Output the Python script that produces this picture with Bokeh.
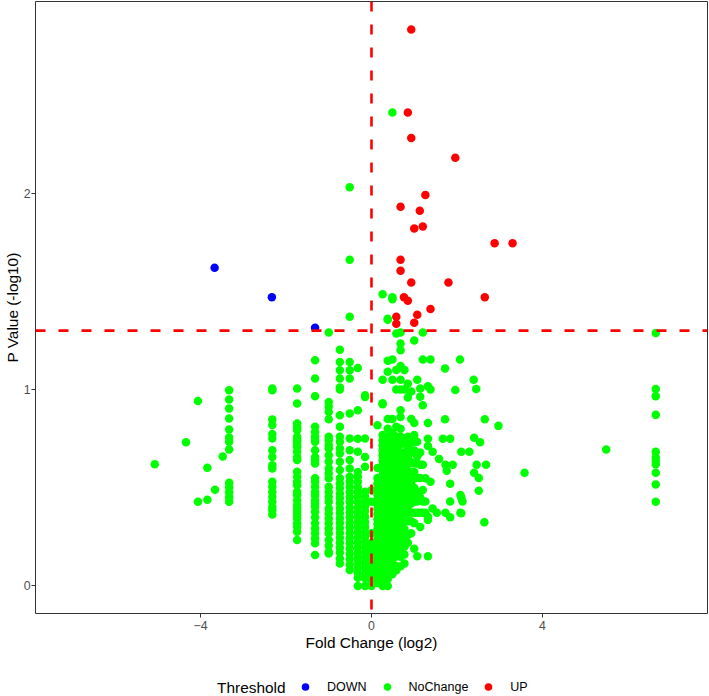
from bokeh.plotting import figure
from bokeh.layouts import column
from bokeh.models import Span, Legend, LegendItem, Label, FixedTicker, ColumnDataSource, Range1d
from bokeh.embed import file_html
from bokeh.resources import INLINE

# ---------------- data ----------------
x_ticks = [-4, 0, 4]
x_tick_labels = ["\u22124", "0", "4"]
y_ticks = [0, 1, 2]
y_tick_labels = ["0", "1", "2"]
p_threshold = 1.3
fc_threshold = 0
groups = ["DOWN", "NoChange", "UP"]

down_fc = [-3.67, -2.33, -1.32]
down_p = [1.62, 1.47, 1.315]

up_fc = [0.93, 0.85, 0.93, 1.96, 1.26, 0.68, 1.13, 1.20, 1.00, 2.88, 3.30, 0.68,
         0.68, 0.93, 1.80, 0.76, 0.85, 2.65, 1.38, 1.07, 0.58, 0.58, 1.00]
up_p = [2.833, 2.41, 2.28, 2.18, 1.99, 1.93, 1.91, 1.83, 1.82, 1.745, 1.745, 1.66,
        1.605, 1.545, 1.545, 1.47, 1.452, 1.47, 1.41, 1.38, 1.37, 1.335, 1.34]

# NoChange points, grouped by fold-change column
nc_col_fc = [-3.33, -2.32, -1.74, -1.32, -1.0, -0.74, -0.51, -0.32, -0.15, 0.0,
             0.14, 0.26, 0.38, 0.49, 0.58, 0.68, 0.77, 0.85, 0.93, 1.0,
             1.07, 1.14, 1.2, 1.26, 1.32, 1.38, 6.65]
p_m333 = [0.996, 0.949, 0.903, 0.852, 0.797, 0.756, 0.734, 0.695, 0.525, 0.502, 0.477, 0.452, 0.429]
p_m232 = [1.005, 0.996, 0.847, 0.819, 0.773, 0.751, 0.691, 0.657, 0.615, 0.598, 0.530, 0.505,
          0.479, 0.454, 0.429, 0.403, 0.386, 0.364]
p_m174 = [1.005, 0.929, 0.827, 0.810, 0.802, 0.793, 0.759, 0.742, 0.734, 0.717, 0.708, 0.683,
          0.657, 0.641, 0.581, 0.556, 0.530, 0.513, 0.48, 0.463, 0.437, 0.412, 0.395, 0.378,
          0.36, 0.344, 0.319, 0.30, 0.276, 0.234]
p_m132 = [1.149, 1.056, 0.966, 0.810, 0.784, 0.759, 0.742, 0.734, 0.691, 0.657, 0.641, 0.624,
          0.548, 0.530, 0.505, 0.479, 0.46, 0.437, 0.420, 0.403, 0.378, 0.35, 0.319, 0.293,
          0.268, 0.242, 0.217, 0.158]
p_m100 = [1.29, 0.937, 0.912, 0.886, 0.849, 0.759, 0.742, 0.717, 0.700, 0.666, 0.632, 0.598,
          0.573, 0.548, 0.505, 0.479, 0.454, 0.429, 0.395, 0.370, 0.344, 0.319, 0.293, 0.268,
          0.234, 0.205, 0.174, 0.166]
p_m074 = [1.203, 1.14, 1.098, 1.056, 1.01, 1.0, 0.869, 0.810, 0.759, 0.734, 0.700, 0.674,
          0.632, 0.590, 0.548, 0.522, 0.497, 0.471, 0.446, 0.421, 0.395, 0.37, 0.345, 0.32,
          0.295, 0.27, 0.245, 0.22, 0.195, 0.17, 0.14, 0.115]
p_m051 = [2.03, 1.66, 1.37, 1.14, 1.098, 1.056, 0.878, 0.751, 0.691, 0.641, 0.598, 0.556,
          0.53, 0.505, 0.479, 0.454, 0.429, 0.40, 0.375, 0.35, 0.322, 0.296, 0.27, 0.243,
          0.217, 0.19, 0.163, 0.137, 0.11, 0.081]
p_m032 = [1.11, 0.895, 0.75, 0.683, 0.58, 0.556, 0.53, 0.503, 0.478, 0.452, 0.427, 0.40,
          0.375, 0.35, 0.325, 0.30, 0.273, 0.248, 0.222, 0.197, 0.17, 0.145, 0.12, 0.094,
          0.068, 0.042, 0.0]
p_m015 = [0.971, 0.962, 0.751, 0.657, 0.607, 0.48, 0.455, 0.43, 0.405, 0.38, 0.352, 0.326,
          0.30, 0.275, 0.25, 0.222, 0.196, 0.17, 0.145, 0.118, 0.092, 0.066, 0.04, 0.0]
p_000 = [0.488, 0.429, 0.268, 0.22, 0.195, 0.17, 0.145, 0.12, 0.095, 0.07, 0.045, 0.02, 0.0]
p_014 = [0.818, 0.6, 0.55, 0.52, 0.49, 0.465, 0.44, 0.415, 0.39, 0.365, 0.34, 0.315, 0.29,
         0.265, 0.24, 0.215, 0.19, 0.165, 0.14, 0.115, 0.09, 0.065, 0.04, 0.015]
p_026 = [1.485, 1.05, 0.93, 0.925, 0.768, 0.74, 0.715, 0.69, 0.665, 0.64, 0.615, 0.59, 0.565,
         0.54, 0.515, 0.49, 0.465, 0.44, 0.415, 0.39, 0.365, 0.34, 0.315, 0.29, 0.265, 0.24,
         0.215, 0.19, 0.165, 0.14, 0.115, 0.09, 0.065, 0.04, 0.02, 0.0]
p_038 = [1.36, 1.355, 1.146, 1.09, 0.85, 0.80, 0.76, 0.735, 0.71, 0.685, 0.66, 0.635, 0.61,
         0.585, 0.56, 0.535, 0.51, 0.485, 0.46, 0.435, 0.41, 0.385, 0.36, 0.335, 0.31, 0.285,
         0.26, 0.235, 0.21, 0.185, 0.16, 0.135, 0.11, 0.085, 0.06, 0.035, 0.0]
p_049 = [2.41, 1.47, 1.46, 1.153, 1.05, 0.85, 0.78, 0.75, 0.72, 0.69, 0.66, 0.63, 0.60, 0.575,
         0.55, 0.52, 0.49, 0.465, 0.44, 0.41, 0.385, 0.36, 0.33, 0.30, 0.275, 0.25, 0.22,
         0.19, 0.165, 0.14, 0.12, 0.09, 0.06]
p_058 = [1.285, 1.10, 1.0, 0.81, 0.76, 0.73, 0.70, 0.675, 0.65, 0.62, 0.59, 0.565, 0.54,
         0.515, 0.49, 0.465, 0.44, 0.415, 0.39, 0.36, 0.335, 0.31, 0.28, 0.25, 0.225, 0.20,
         0.17, 0.15, 0.10, 0.08]
p_068 = [1.29, 1.234, 1.2, 1.12, 1.05, 1.0, 0.895, 0.86, 0.80, 0.76, 0.72, 0.68, 0.65, 0.62,
         0.59, 0.56, 0.53, 0.50, 0.47, 0.44, 0.41, 0.37, 0.34, 0.30, 0.26, 0.22, 0.18, 0.149,
         0.10]
p_077 = [1.10, 1.0, 0.74, 0.68, 0.64, 0.60, 0.57, 0.54, 0.50, 0.46, 0.43, 0.40, 0.37, 0.33,
         0.29, 0.25, 0.20, 0.16, 0.115]
p_085 = [1.03, 0.96, 0.76, 0.71, 0.66, 0.62, 0.58, 0.54, 0.51, 0.47, 0.43, 0.40, 0.373, 0.33,
         0.26, 0.22]
p_093 = [0.99, 0.85, 0.73, 0.68, 0.63, 0.58, 0.53, 0.49, 0.45, 0.42, 0.373, 0.33, 0.268]
p_100 = [1.25, 0.83, 0.768, 0.734, 0.69, 0.624, 0.58, 0.55, 0.50, 0.45, 0.43, 0.373, 0.32, 0.19]
p_107 = [1.05, 0.734, 0.66, 0.624, 0.55, 0.48, 0.43, 0.373, 0.152]
p_114 = [1.005, 0.963, 0.68, 0.617, 0.55, 0.45, 0.373, 0.30]
p_120 = [1.29, 1.153, 0.92, 0.617, 0.488, 0.43, 0.373]
p_126 = [0.548, 0.43, 0.373]
p_132 = [1.017, 0.83, 0.75, 0.712, 0.352, 0.336, 0.152]
p_138 = [1.153, 1.0, 0.53]
p_665 = [1.288, 1.003, 0.966, 0.871, 0.683, 0.654, 0.637, 0.620, 0.576, 0.517, 0.429]

# isolated NoChange points
nc_sc_fc = [-5.07, -4.06, -4.34, -3.84, -3.48, -3.66, -4.06, -3.84,
            1.43, 1.43, 1.58, 1.53, 1.67, 1.72, 1.72, 1.73, 1.73, 1.76, 1.84, 1.84, 1.84,
            1.84, 1.9, 1.96, 2.07, 2.08, 2.08, 2.1, 2.1, 2.1, 2.13, 2.29, 2.39, 2.40, 2.40,
            2.45, 2.46, 2.51, 2.51, 2.54, 2.64, 2.65, 2.68, 2.97, 3.58, 5.49]
nc_sc_p = [0.62, 0.942, 0.732, 0.602, 0.659, 0.49, 0.429, 0.439,
           0.683, 0.395, 0.647, 0.373, 0.75, 1.107, 0.849, 0.617, 0.373, 0.586, 0.75, 0.52, 0.43,
           0.35, 0.617, 0.998, 1.153, 0.463, 0.373, 0.683, 0.45, 0.37, 0.43, 0.683, 1.05, 0.754, 0.576,
           1.003, 0.617, 0.55, 0.485, 0.732, 0.325, 0.849, 0.617, 0.815, 0.576, 0.695]

nc_col_p = [p_m333, p_m232, p_m174, p_m132, p_m100, p_m074, p_m051, p_m032, p_m015, p_000,
            p_014, p_026, p_038, p_049, p_058, p_068, p_077, p_085, p_093, p_100,
            p_107, p_114, p_120, p_126, p_132, p_138, p_665]

nc_fc, nc_p = [], []
for fc, plist in zip(nc_col_fc, nc_col_p):
    nc_fc += [fc] * len(plist)
    nc_p += plist
nc_fc += nc_sc_fc
nc_p += nc_sc_p

# ---------------- main figure ----------------
FONT = "Liberation Sans"
GREEN, BLUE, RED = "#00FF00", "#0000FF", "#FF0000"
colors = [BLUE, GREEN, RED]

p = figure(width=709, height=665, output_backend="svg", toolbar_location=None,
           x_range=Range1d(-7.86, 7.86), y_range=Range1d(-0.14, 2.975),
           min_border_left=30, min_border_right=2, min_border_top=1, min_border_bottom=52)
p.background_fill_color = "white"
p.border_fill_color = "white"
p.outline_line_color = "#333333"
p.outline_line_width = 1
p.grid.visible = False

p.scatter(x="fc", y="p", source=ColumnDataSource(dict(fc=nc_fc, p=nc_p)),
          size=8.5, fill_color=GREEN, line_color=None)
p.scatter(x="fc", y="p", source=ColumnDataSource(dict(fc=down_fc, p=down_p)),
          size=8.5, fill_color=BLUE, line_color=None)
p.scatter(x="fc", y="p", source=ColumnDataSource(dict(fc=up_fc, p=up_p)),
          size=8.5, fill_color=RED, line_color=None)

p.add_layout(Span(location=p_threshold, dimension="width", line_color=RED,
                  line_width=2.6, line_dash="10 13"))
p.add_layout(Span(location=fc_threshold, dimension="height", line_color=RED,
                  line_width=2.6, line_dash="10 13"))

for ax in (p.xaxis[0], p.yaxis[0]):
    ax.axis_line_color = None
    ax.major_tick_line_color = "#333333"
    ax.major_tick_out = 4
    ax.major_tick_in = 0
    ax.minor_tick_line_color = None
    ax.major_label_text_font = FONT
    ax.major_label_text_font_size = "12.3px"
    ax.major_label_text_color = "#4D4D4D"
    ax.axis_label_text_font = FONT
    ax.axis_label_text_font_size = "15.4px"
    ax.axis_label_text_font_style = "normal"
    ax.axis_label_text_color = "black"

p.xaxis.ticker = FixedTicker(ticks=x_ticks)
p.xaxis.major_label_overrides = dict(zip(x_ticks, x_tick_labels))
p.yaxis.ticker = FixedTicker(ticks=y_ticks)
p.yaxis.major_label_overrides = dict(zip(y_ticks, y_tick_labels))
p.xaxis.axis_label = "Fold Change (log2)"
p.yaxis.axis_label = "P Value (-log10)"
p.xaxis.major_label_standoff = 3
p.xaxis.axis_label_standoff = 1
p.yaxis.major_label_standoff = 1
p.yaxis.axis_label_standoff = 0

# ---------------- legend strip ----------------
lf = figure(width=709, height=31, output_backend="svg", toolbar_location=None,
            x_axis_location=None, y_axis_location=None,
            x_range=Range1d(0, 709), y_range=Range1d(0, 31),
            min_border_left=0, min_border_right=0, min_border_top=0, min_border_bottom=0)
lf.grid.visible = False
lf.outline_line_color = None
lf.background_fill_color = "white"
lf.border_fill_color = "white"

# legend proxies: one point each, placed outside the strip's visible range
items = []
for g, c in zip(groups, colors):
    r = lf.scatter(x=[-1000], y=[-1000], size=8.5, fill_color=c, line_color=None)
    items.append(LegendItem(label=g, renderers=[r]))

# the strip's frame is aligned with the main frame (starts ~35px in)
legend = Legend(items=items, orientation="horizontal", location=(260, 0),
                glyph_width=20, glyph_height=19, label_height=19, label_standoff=12, spacing=10,
                padding=0, margin=0, border_line_color=None, background_fill_alpha=0,
                label_text_font=FONT, label_text_font_size="12.5px", label_text_color="black")
lf.add_layout(legend)
lf.add_layout(Label(x=250, y=9.5, x_units="screen", y_units="screen", text="Threshold",
                    text_align="right", text_baseline="middle", text_font=FONT,
                    text_font_size="15.4px", text_color="black"))

layout = column(p, lf, spacing=0)
open("out.html", "w").write(file_html(layout, INLINE))
